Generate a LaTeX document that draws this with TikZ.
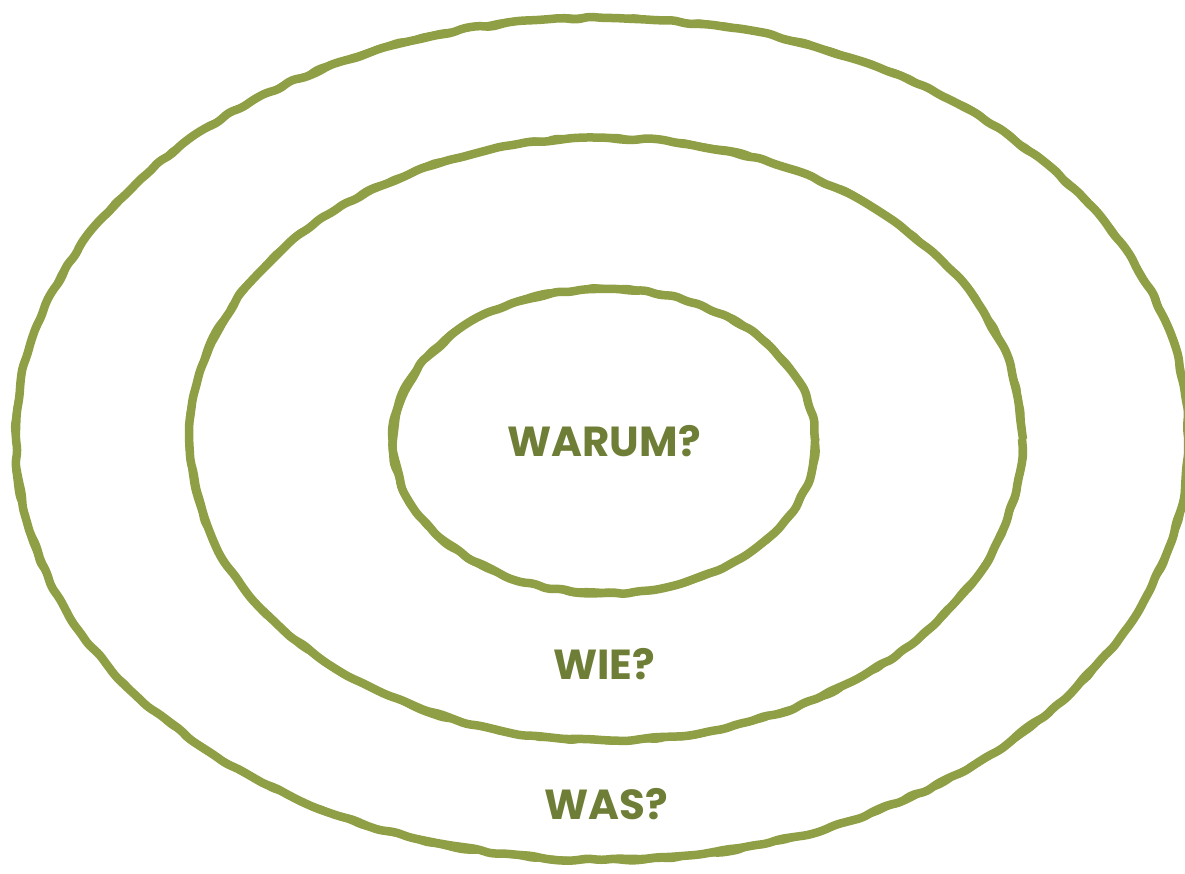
\documentclass[tikz,border=0pt]{standalone}
\usepackage{fontspec}
\setmainfont{Poppins}
\usetikzlibrary{decorations.pathmorphing}
\definecolor{ringc}{HTML}{8F9F45}
\definecolor{textc}{HTML}{6F7E37}
\tikzset{
  ring/.style={draw=ringc, line width=8.5pt, line join=round,
    decorate, decoration={random steps, segment length=14pt, amplitude=1.6pt}, rounded corners=5pt},
  ringb/.style={draw=ringc, line width=5.5pt, line join=round,
    decorate, decoration={random steps, segment length=11pt, amplitude=1.8pt}, rounded corners=4pt},
  lbl/.style={text=textc, font=\fontsize{42}{42}\selectfont\bfseries, inner sep=0pt}
}
\begin{document}
\begin{tikzpicture}[x=1pt, y=-1pt]
\useasboundingbox (0,0) rectangle (1185,874);
\clip (0,0) rectangle (1185,874);
\fill[white] (0,0) rectangle (1185,874);
\pgfmathsetseed{7}
\path[ring] (602,439) ellipse [x radius=586, y radius=421];
\path[ringb] (602,439) ellipse [x radius=587, y radius=422];
\path[ring] (606,439) ellipse [x radius=416, y radius=301];
\path[ringb] (606,439) ellipse [x radius=417, y radius=302];
\path[ring] (604,441) ellipse [x radius=211, y radius=152];
\path[ringb] (604,441) ellipse [x radius=212, y radius=153];
\node[lbl] (warum) at (604,441) {WARUM?};
\node[lbl] (wie) at (604,664) {WIE?};
\node[lbl] (was) at (606,804) {WAS?};
\end{tikzpicture}
\end{document}
